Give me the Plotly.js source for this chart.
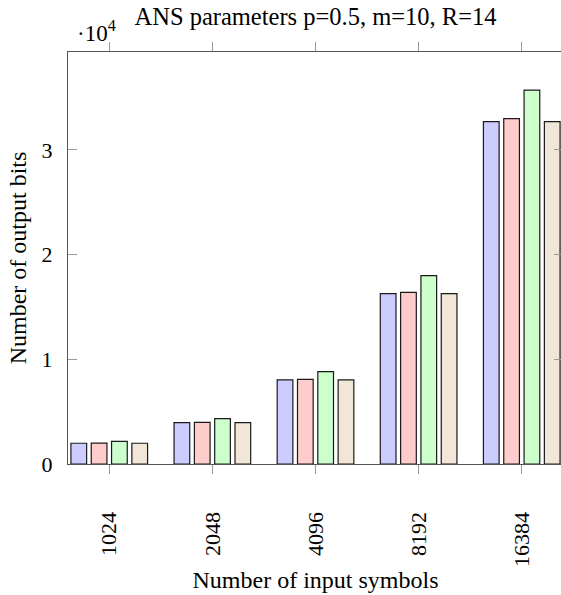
<!DOCTYPE html>
<html>
<head>
<meta charset="utf-8">
<script src="https://cdn.plot.ly/plotly-3.0.1.min.js"></script>
<style>
html, body { margin: 0; padding: 0; overflow: hidden; background: #fff; }
#chart { width: 563px; height: 595px; }
</style>
</head>
<body>
<div id="chart"></div>
<script>
// Data
const categories = ["1024", "2048", "4096", "8192", "16384"];
const series1 = [1980, 3950, 8030, 16270, 32700];
const series2 = [1990, 3980, 8090, 16400, 32980];
const series3 = [2170, 4330, 8820, 17990, 35700];
const series4 = [1980, 3950, 8030, 16270, 32700];
const seriesNames = ["Series 1", "Series 2", "Series 3", "Series 4"];
const yTickVals = [0, 10000, 20000, 30000];
const yTickText = ["0", "1", "2", "3"];

const fills = ["#ccccff", "#ffcccc", "#ccffcc", "#f2e6d9"];
const allSeries = [series1, series2, series3, series4];

const traces = allSeries.map((vals, i) => ({
  type: "bar",
  x: categories,
  y: vals,
  name: seriesNames[i],
  marker: { color: fills[i], line: { color: "#1a1a1a", width: 1.2 } },
  hoverinfo: "x+y"
}));

const FAM = "Liberation Serif, serif";
const f = (size) => ({ family: FAM, size: size, color: "#000" });

const layout = {
  width: 563,
  height: 595,
  margin: { l: 68, r: 0, t: 52, b: 131 },
  paper_bgcolor: "#fff",
  plot_bgcolor: "#fff",
  showlegend: false,
  barmode: "group",
  bargap: 0.212,
  bargroupgap: 0.227,
  font: f(22),
  title: {
    text: "ANS parameters p=0.5, m=10, R=14",
    font: f(24.5),
    x: 0.5, xref: "paper", xanchor: "center",
    y: 1 - 7.5 / 595, yref: "container", yanchor: "top"
  },
  xaxis: {
    type: "category",
    range: [-0.4, 4.4],
    tickangle: -90,
    ticks: "outside",
    ticklen: 9,
    tickcolor: "#999",
    tickwidth: 1,
    showline: true,
    linecolor: "#555",
    linewidth: 1.2,
    mirror: "ticks",
    showgrid: false,
    zeroline: false,
    ticklabelstandoff: 29,
    tickfont: f(22),
    title: { text: "Number of input symbols", font: f(24), standoff: 5 }
  },
  yaxis: {
    range: [0, 39350],
    tickvals: yTickVals,
    ticktext: yTickText,
    ticks: "inside",
    ticklen: 9,
    tickcolor: "#999",
    tickwidth: 1,
    showline: true,
    linecolor: "#555",
    linewidth: 1.2,
    mirror: "ticks",
    showgrid: false,
    zeroline: false,
    ticklabelstandoff: 10,
    tickfont: f(22),
    title: { text: "Number of output bits", font: f(24), standoff: 8 }
  },
  annotations: [{
    text: "·10<sup>4</sup>",
    xref: "paper", yref: "paper",
    x: (75 - 68) / 495, y: 1 + (52 - 48) / 412,
    xanchor: "left", yanchor: "bottom",
    showarrow: false,
    font: f(23)
  }]
};

Plotly.newPlot("chart", traces, layout, { displayModeBar: false, staticPlot: true });
</script>
</body>
</html>
